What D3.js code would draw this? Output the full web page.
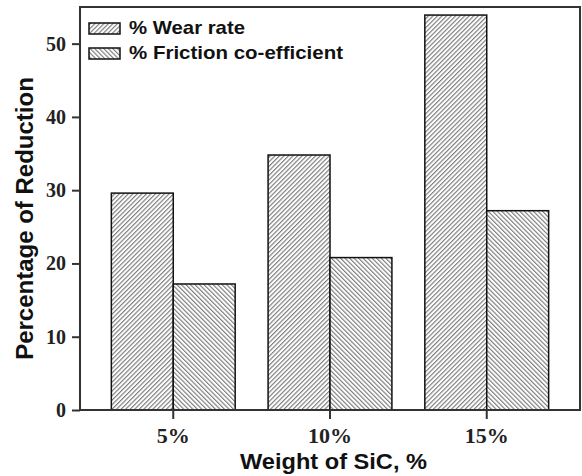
<!DOCTYPE html>
<html>
<head>
<meta charset="utf-8">
<script src="https://cdn.jsdelivr.net/npm/d3@7"></script>
<style>
  html, body { margin: 0; padding: 0; background: #fff; }
  svg { display: block; }
</style>
</head>
<body>
<script>
const categories = ["5%", "10%", "15%"];
const seriesNames = ["% Wear rate", "% Friction co-efficient"];
const wearRate = [29.6, 34.8, 53.9];
const frictionCoeff = [17.2, 20.8, 27.2];
const yTicks = [0, 10, 20, 30, 40, 50];

const W = 582, H = 476;
const margin = { left: 80, right: 2, top: 7, bottom: 66 };
const svg = d3.select("body").append("svg").attr("width", W).attr("height", H);

const defs = svg.append("defs");
function hatch(id, angle) {
  const p = defs.append("pattern").attr("id", id)
    .attr("patternUnits", "userSpaceOnUse")
    .attr("width", 3.2).attr("height", 10)
    .attr("patternTransform", `rotate(${angle})`);
  p.append("rect").attr("width", 3.2).attr("height", 10).attr("fill", "#fff");
  p.append("line").attr("x1", 0.6).attr("y1", 0).attr("x2", 0.6).attr("y2", 10)
    .attr("stroke", "#707070").attr("stroke-width", 1.05);
}
hatch("hWear", 45);
hatch("hFric", -45);
const fills = ["url(#hWear)", "url(#hFric)"];

const x = d3.scaleBand().domain(categories).range([margin.left, W - margin.right])
  .paddingInner(0.21).paddingOuter(0.2);
const xs = d3.scaleBand().domain([0, 1]).range([0, x.bandwidth()]).padding(0);
const y = d3.scaleLinear().domain([0, 55]).range([H - margin.bottom, margin.top]);

const data = categories.map((c, i) => ({ cat: c, vals: [wearRate[i], frictionCoeff[i]] }));

// bars
const g = svg.append("g");
data.forEach(d => {
  d.vals.forEach((v, k) => {
    g.append("rect")
      .attr("x", x(d.cat) + xs(k))
      .attr("y", y(v))
      .attr("width", xs.bandwidth())
      .attr("height", y(0) - y(v))
      .attr("fill", fills[k])
      .attr("stroke", "#111")
      .attr("stroke-width", 1.5);
  });
});

// frame
const axisColor = "#333";
svg.append("rect")
  .attr("x", margin.left).attr("y", margin.top)
  .attr("width", W - margin.right - margin.left)
  .attr("height", y(0) - margin.top)
  .attr("fill", "none").attr("stroke", axisColor).attr("stroke-width", 2);

// y axis
const yAxis = svg.append("g").attr("transform", `translate(${margin.left},0)`)
  .call(d3.axisLeft(y).tickValues(yTicks).tickSize(8).tickPadding(6).tickFormat(d3.format("d")));
yAxis.select(".domain").remove();
yAxis.selectAll(".tick line").attr("stroke", axisColor).attr("stroke-width", 2);
yAxis.selectAll(".tick text")
  .attr("font-family", "Liberation Serif, serif").attr("font-weight", "bold")
  .attr("font-size", 20).attr("fill", "#222");

// x axis
const xAxis = svg.append("g").attr("transform", `translate(0,${y(0)})`)
  .call(d3.axisBottom(x).tickSize(9).tickPadding(8));
xAxis.select(".domain").remove();
xAxis.selectAll(".tick line").attr("stroke", axisColor).attr("stroke-width", 2);
xAxis.selectAll(".tick text")
  .attr("font-family", "Liberation Serif, serif").attr("font-weight", "bold")
  .attr("font-size", 22).attr("fill", "#222");

// axis titles
svg.append("text")
  .attr("x", 240)
  .attr("y", 469)
  .attr("textLength", 187).attr("lengthAdjust", "spacingAndGlyphs")
  .attr("font-family", "Liberation Sans, Arial, sans-serif").attr("font-weight", "bold")
  .attr("font-size", 22).attr("fill", "#111")
  .text("Weight of SiC, %");

svg.append("text")
  .attr("transform", `translate(33,${(margin.top + y(0)) / 2 + 10}) rotate(-90)`)
  .attr("text-anchor", "middle")
  .attr("font-family", "Liberation Sans, Arial, sans-serif").attr("font-weight", "bold")
  .attr("font-size", 24).attr("fill", "#111")
  .text("Percentage of Reduction");

// legend
const lg = svg.append("g");
const legendLens = [116, 214];
seriesNames.forEach((name, k) => {
  const yy = 23 + k * 25;
  lg.append("rect").attr("x", 89).attr("y", yy).attr("width", 31).attr("height", 11)
    .attr("fill", fills[k]).attr("stroke", "#111").attr("stroke-width", 1.5);
  lg.append("text").attr("x", 129).attr("y", yy + 11)
    .attr("textLength", legendLens[k]).attr("lengthAdjust", "spacingAndGlyphs")
    .attr("font-family", "Liberation Sans, Arial, sans-serif").attr("font-weight", "bold")
    .attr("font-size", 19).attr("fill", "#111")
    .text(name);
});
</script>
</body>
</html>
